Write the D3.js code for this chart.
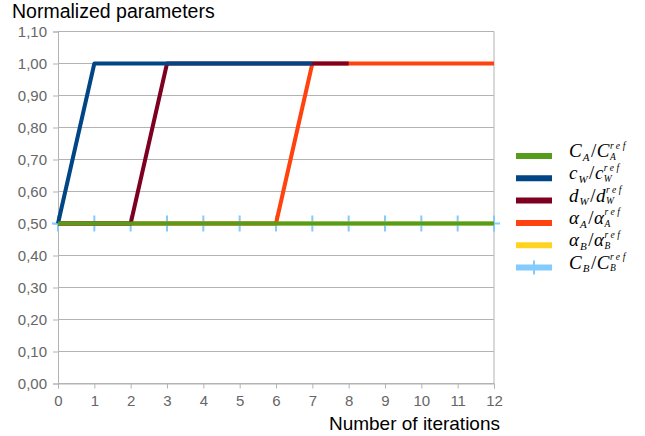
<!DOCTYPE html>
<html><head><meta charset="utf-8">
<script src="https://cdn.jsdelivr.net/npm/d3@7"></script>
<style>body{margin:0;background:#fff}svg{display:block}</style>
</head><body>
<svg id="c" width="645" height="436"></svg>
<script>
const iterations = [0,1,2,3,4,5,6,7,8,9,10,11,12];
const yTicks = [0,0.1,0.2,0.3,0.4,0.5,0.6,0.7,0.8,0.9,1.0,1.1];
const CA     = [0.5,0.5,0.5,0.5,0.5,0.5,0.5,0.5,0.5,0.5,0.5,0.5,0.5];
const cW     = [0.5,1,1,1,1,1,1,1];
const dW     = [0.5,0.5,0.5,1,1,1,1,1,1];
const alphaA = [0.5,0.5,0.5,0.5,0.5,0.5,0.5,1,1,1,1,1,1];
const alphaB = [0.5,0.5,0.5,0.5,0.5,0.5,0.5,0.5,0.5,0.5,0.5,0.5,0.5];
const CB     = [0.5,0.5,0.5,0.5,0.5,0.5,0.5,0.5,0.5,0.5,0.5,0.5,0.5];

const series = [
  {name:"CA", values:CA, color:"#579d1c", lab:["C","A","C","A"]},
  {name:"cW", values:cW, color:"#004586", lab:["c","W","c","W"]},
  {name:"dW", values:dW, color:"#7e0021", lab:["d","W","d","W"]},
  {name:"aA", values:alphaA, color:"#ff420e", lab:["α","A","α","A"]},
  {name:"aB", values:alphaB, color:"#ffd320", lab:["α","B","α","B"]},
  {name:"CB", values:CB, color:"#83caff", lab:["C","B","C","B"], marker:true}
];

const svg = d3.select("#c");
const x = d3.scaleLinear().domain([0,12]).range([58,494]);
const y = d3.scaleLinear().domain([0,1.1]).range([383.5,31.5]);
const grid = "#b3b3b3";

svg.append("g").selectAll("line").data(yTicks).join("line")
  .attr("x1",x(0)).attr("x2",x(12)).attr("y1",d=>y(d)).attr("y2",d=>y(d))
  .attr("stroke",grid).attr("stroke-width",1);
svg.append("line").attr("x1",x(12)).attr("x2",x(12)).attr("y1",y(1.1)).attr("y2",y(0))
  .attr("stroke",grid);

const yAxis = d3.axisLeft(y).tickValues(yTicks).tickSize(5).tickPadding(6)
  .tickFormat(d=>d3.format(".2f")(d).replace(".",","));
const gy = svg.append("g").attr("transform",`translate(${x(0)},0)`).call(yAxis);
const xAxis = d3.axisBottom(x).tickValues(iterations).tickSize(5).tickPadding(7).tickFormat(d=>d);
const gx = svg.append("g").attr("transform",`translate(0,${y(0)})`).call(xAxis);
[gx,gy].forEach(g=>{
  g.select(".domain").attr("stroke",grid);
  g.selectAll(".tick line").attr("stroke",grid);
  g.selectAll(".tick text").attr("fill","#666").style("font-family","Liberation Sans, Arial, sans-serif").style("font-size","15px");
});

const line = d3.line().x((d,i)=>x(iterations[i])).y(d=>y(d));
series.slice().reverse().forEach(s=>{
  svg.append("path").attr("d",line(s.values)).attr("fill","none")
    .attr("stroke",s.color).attr("stroke-width",4).attr("stroke-linejoin","round");
  if(s.marker){
    svg.append("g").selectAll("path").data(s.values).join("path")
      .attr("d",(d,i)=>{const cx=x(iterations[i]),cy=y(d);return `M${cx-6},${cy}H${cx+6}M${cx},${cy-8}V${cy+8}`;})
      .attr("stroke",s.color).attr("stroke-width",2).attr("fill","none");
  }
});

svg.append("text").attr("x",12).attr("y",18).text("Normalized parameters")
  .style("font-family","Liberation Sans, Arial, sans-serif").style("font-size","19.5px").attr("fill","#000");
svg.append("text").attr("x",500).attr("y",430).attr("text-anchor","end").text("Number of iterations")
  .style("font-family","Liberation Sans, Arial, sans-serif").style("font-size","19px").attr("fill","#000");

const lg = svg.append("g");
const serif = "Liberation Serif, DejaVu Serif, serif";
series.forEach((s,i)=>{
  const cy = 156 + i*22.3;
  lg.append("line").attr("x1",516).attr("x2",552).attr("y1",cy).attr("y2",cy)
    .attr("stroke",s.color).attr("stroke-width",6);
  if(s.marker){
    lg.append("line").attr("x1",534).attr("x2",534).attr("y1",cy-7).attr("y2",cy+7)
      .attr("stroke",s.color).attr("stroke-width",2);
  }
  const g = lg.append("g");
  let cx = 569;
  function put(t,size,yy,italic,ls){
    const el = g.append("text").attr("x",cx).attr("y",yy).text(t)
      .style("font-family",serif).style("font-size",size+"px")
      .style("font-style",italic?"italic":"normal").attr("fill","#000");
    if(ls) el.style("letter-spacing",ls+"px");
    return el.node().getComputedTextLength();
  }
  cx += put(s.lab[0],19,cy+1,true)+1;
  cx += put(s.lab[1],11,cy+4.7,true)+1.5;
  cx += put("/",19,cy+1,false)+0.5;
  cx += put(s.lab[2],19,cy+1,true)+0.5;
  put("ref",9.5,cy-7.5,true,2.6);
  put(s.lab[3],9.5,cy+3.8,true);
});
</script>
</body></html>
